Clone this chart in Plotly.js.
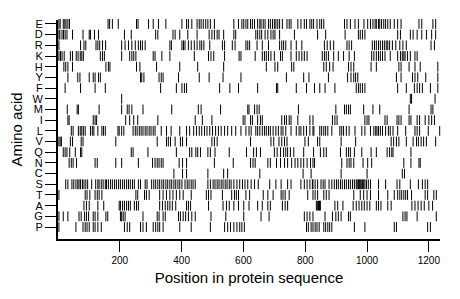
<!DOCTYPE html>
<html>
<head>
<meta charset="utf-8">
<script src="https://cdn.plot.ly/plotly-3.0.1.min.js"></script>
<style>html,body{margin:0;padding:0;background:#fff;}#chart{width:460px;height:299px;}</style>
</head>
<body>
<div id="chart"></div>
<script>
// Amino acid rows, top to bottom
const aminoAcids = ["E","D","R","K","H","Y","F","W","M","I","L","V","Q","N","C","S","T","A","G","P"];

// Positions (residue index) at which each amino acid occurs
const posE = [3,7,17,22,26,32,37,162,167,176,195,254,259,293,308,325,349,401,416,422,433,450,457,463,470,478,485,493,506,569,584,595,601,608,614,623,629,636,646,653,657,664,670,681,687,694,700,705,711,717,726,741,748,754,776,786,797,804,815,821,827,838,847,853,860,927,935,946,961,972,990,1002,1011,1019,1026,1030,1037,1041,1047,1054,1060,1067,1075,1088,1099,1110,1168,1177,1213,1222];
const posD = [3,6,13,18,23,29,47,81,101,105,118,131,215,237,316,323,372,379,394,420,450,489,498,506,515,521,536,569,575,640,646,653,659,670,679,689,696,702,717,765,840,866,929,972,978,985,993,1099,1108,1140,1149,1162,1177,1192,1209,1222];
const posR = [3,73,84,90,123,129,135,144,154,206,217,228,239,250,260,267,273,282,362,367,401,406,411,422,431,441,450,459,465,472,491,532,539,564,573,608,614,620,644,661,681,717,724,730,737,754,771,789,862,871,881,892,935,942,950,1017,1024,1030,1037,1043,1050,1056,1062,1067,1073,1082,1093,1106,1116,1127,1207,1218];
const posK = [3,8,13,20,40,47,59,65,72,77,82,137,144,150,206,232,239,245,252,308,314,336,362,441,487,495,504,539,586,592,638,661,668,674,681,689,700,720,726,754,771,780,789,797,806,855,862,868,875,892,907,924,942,959,1015,1022,1030,1037,1043,1050,1058,1075,1099,1108,1114,1119,1123,1131,1140,1155,1162];
const posH = [19,25,32,47,155,163,168,254,265,319,394,452,536,674,702,711,756,763,860,868,879,890,940,948,957,1013,1030,1103,1110,1136,1155,1172,1229];
const posY = [32,64,71,101,114,120,131,137,267,271,278,327,334,340,390,457,489,534,592,739,795,812,875,937,948,957,963,970,1095,1110,1147,1155,1164,1190,1229];
const posF = [23,73,120,153,332,383,401,409,416,523,556,584,646,707,711,771,804,830,847,864,896,965,972,978,985,993,1099,1127,1153,1162,1170,1179,1205,1229];
const posW = [206,1140,1144,1220];
const posM = [30,62,66,133,206,224,230,239,275,368,454,463,526,614,618,636,644,651,778,899,927,933,940,946,989,1019,1041,1136,1207,1213];
const posI = [32,36,114,120,125,219,232,245,258,323,444,467,498,599,605,623,629,646,655,661,724,733,739,748,754,776,815,825,888,896,903,993,1000,1006,1058,1065,1097,1103,1110,1136,1142,1162,1170,1188,1200,1209,1218];
const posL = [43,49,66,72,77,82,88,105,111,116,129,142,147,153,194,198,206,213,243,250,256,263,269,275,282,288,295,301,308,314,334,351,366,394,416,426,439,448,457,465,474,482,491,500,510,519,528,539,549,562,575,592,608,618,625,640,646,653,661,668,674,681,687,696,705,713,722,728,737,754,771,780,786,795,804,815,825,828,847,853,860,866,873,886,912,918,924,933,942,961,983,993,1011,1022,1028,1032,1037,1043,1050,1060,1069,1075,1084,1099,1125,1155,1162,1170,1198,1235];
const posV = [3,7,11,40,47,75,81,187,321,351,357,364,379,396,403,416,498,506,515,623,689,698,715,724,733,741,799,810,840,847,916,963,1078,1086,1095,1103,1127,1149,1160,1166,1175,1183,1192,1222];
const posQ = [17,23,29,38,56,73,77,237,243,291,383,426,433,446,452,461,485,493,508,554,610,633,642,655,700,709,720,730,737,743,752,763,795,827,849,860,868,914,933,940,946,959,983,1013,1030,1065,1073,1080,1084,1142];
const posN = [36,43,49,60,120,127,187,206,260,306,314,321,327,334,340,392,403,416,506,567,623,631,638,679,687,707,720,733,743,756,767,776,786,795,806,817,825,830,918,935,942,948,957,987,1002,1015,1119,1142,1168,1172];
const posC = [375,403,416,485,536,549,653,793,819,916,1000,1114,1121];
const posS = [25,32,45,51,58,64,68,73,79,84,90,96,109,122,129,133,140,146,153,157,163,170,176,183,189,196,202,209,215,222,228,234,241,247,260,267,282,288,303,310,316,323,329,336,342,349,355,362,368,375,381,388,394,401,411,418,424,431,437,444,485,493,502,508,515,521,528,534,541,547,554,560,569,579,588,597,605,614,625,636,648,685,705,722,743,754,786,797,806,815,823,825,832,840,851,858,864,877,886,894,901,907,914,920,927,933,940,946,953,959,965,968,972,975,978,981,985,989,993,998,1004,1011,1037,1060,1097,1106,1140,1166,1179,1188,1196];
const posT = [3,88,94,103,120,127,133,142,252,258,280,286,295,329,340,351,362,372,383,394,405,431,480,487,495,532,562,571,577,584,608,620,664,679,696,722,728,735,748,808,825,832,840,860,868,877,957,978,989,1000,1011,1037,1067,1088,1099,1106,1112,1119,1125,1131,1144,1188,1196,1216,1224];
const posA = [84,92,101,129,148,198,202,209,215,222,228,234,247,254,260,329,338,347,355,362,370,381,416,422,429,487,534,545,554,569,584,601,618,646,661,679,687,726,735,743,836,839,843,846,849,896,905,922,955,965,974,983,991,1000,1009,1030,1037,1045,1067,1078,1145,1155,1165,1175,1185,1200,1212];
const posG = [3,17,32,68,75,86,92,99,114,120,129,155,161,202,206,211,217,275,321,327,340,347,390,396,405,413,422,433,444,495,543,601,657,683,797,806,815,825,864,888,899,907,916,940,946,1116,1123,1129,1162,1224];
const posP = [3,58,81,88,94,101,114,120,129,140,215,224,232,267,275,286,308,316,323,329,340,394,431,493,539,549,558,569,579,588,595,603,804,810,819,825,832,838,845,860,866,873,879,886,959,993,1088,1095,1196,1205];

const xTickVals = [200,400,600,800,1000,1200];
const xTickText = ["200","400","600","800","1000","1200"];

const positionsByAA = {E:posE,D:posD,R:posR,K:posK,H:posH,Y:posY,F:posF,W:posW,M:posM,I:posI,L:posL,V:posV,Q:posQ,N:posN,C:posC,S:posS,T:posT,A:posA,G:posG,P:posP};

const xs = [], ys = [];
aminoAcids.forEach(aa => {
  positionsByAA[aa].forEach(p => { xs.push(p); ys.push(aa); });
});

const font = {family: "Liberation Sans, Arial, Helvetica, sans-serif", color: "#000"};

const trace = {
  type: "scatter",
  mode: "markers",
  x: xs,
  y: ys,
  marker: {symbol: "line-ns-open", size: 7, color: "#000", line: {color: "#000", width: 1}},
  hoverinfo: "skip",
  cliponaxis: false
};

const layout = {
  width: 460,
  height: 299,
  margin: {l: 58, r: 20, t: 20, b: 60, pad: 0},
  paper_bgcolor: "#fff",
  plot_bgcolor: "#fff",
  showlegend: false,
  font: Object.assign({size: 11}, font),
  xaxis: {
    range: [0, 1236],
    showgrid: false,
    zeroline: false,
    showline: true,
    linecolor: "#000",
    linewidth: 2,
    ticks: "outside",
    ticklen: 11,
    tickwidth: 1,
    tickcolor: "#000",
    tickvals: xTickVals,
    ticktext: xTickText,
    tickfont: Object.assign({size: 10}, font),
    title: {text: "Position in protein sequence", font: Object.assign({size: 15}, font), standoff: 7}
  },
  yaxis: {
    type: "category",
    categoryorder: "array",
    categoryarray: aminoAcids.slice().reverse(),
    tickmode: "array",
    tickvals: aminoAcids,
    ticktext: aminoAcids,
    range: [-1.12, 19.37],
    showgrid: false,
    zeroline: false,
    showline: true,
    linecolor: "#000",
    linewidth: 2,
    ticks: "outside",
    ticklen: 11,
    tickwidth: 1,
    tickcolor: "#000",
    tickfont: Object.assign({size: 11}, font),
    title: {text: "Amino acid", font: Object.assign({size: 15}, font), standoff: 6}
  }
};

Plotly.newPlot("chart", [trace], layout, {staticPlot: true, displayModeBar: false});
</script>
</body>
</html>
